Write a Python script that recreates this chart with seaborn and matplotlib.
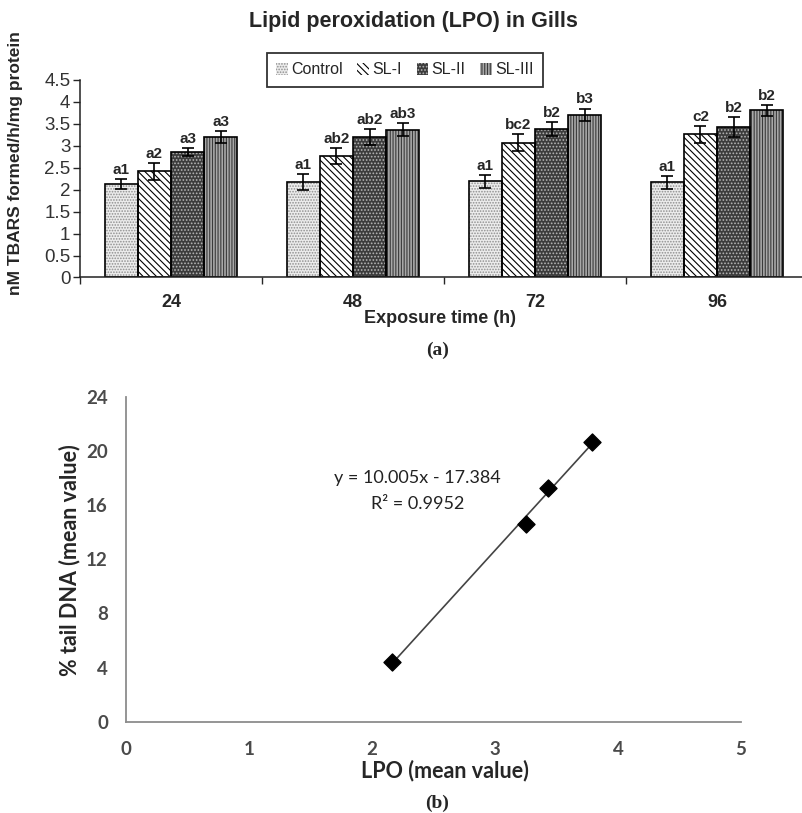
import numpy as np
import pandas as pd
import matplotlib
matplotlib.use("Agg")
import matplotlib.pyplot as plt
from matplotlib.patches import Patch, Rectangle
import seaborn as sns

# dados do grafico (a) - LPO nas branquias
tempos = ["24", "48", "72", "96"]
grupos = ["Control", "SL-I", "SL-II", "SL-III"]
lpo_control = [2.13, 2.17, 2.19, 2.17]
lpo_sl1 = [2.42, 2.77, 3.07, 3.26]
lpo_sl2 = [2.85, 3.21, 3.39, 3.43]
lpo_sl3 = [3.20, 3.37, 3.71, 3.81]
err_control = [0.11, 0.18, 0.14, 0.15]
err_sl1 = [0.19, 0.19, 0.19, 0.19]
err_sl2 = [0.09, 0.18, 0.16, 0.22]
err_sl3 = [0.13, 0.14, 0.14, 0.12]
letras_control = ["a1", "a1", "a1", "a1"]
letras_sl1 = ["a2", "ab2", "bc2", "c2"]
letras_sl2 = ["a3", "ab2", "b2", "b2"]
letras_sl3 = ["a3", "ab3", "b3", "b2"]

# dados do grafico (b) - regressao
lpo_media = [2.16, 3.25, 3.43, 3.79]
tail_dna = [4.38, 14.57, 17.27, 20.66]
y_ticks_a = [0, 0.5, 1, 1.5, 2, 2.5, 3, 3.5, 4, 4.5]
x_ticks_b = [0, 1, 2, 3, 4, 5]
y_ticks_b = [0, 4, 8, 12, 16, 20, 24]

valores = [lpo_control, lpo_sl1, lpo_sl2, lpo_sl3]
erros = [err_control, err_sl1, err_sl2, err_sl3]
letras = [letras_control, letras_sl1, letras_sl2, letras_sl3]

df = pd.DataFrame({
    "tempo": np.tile(tempos, 4),
    "grupo": np.repeat(grupos, 4),
    "valor": np.concatenate(valores),
})

sns.set_style("ticks")
plt.rcParams["font.family"] = ["Liberation Sans", "DejaVu Sans"]
plt.rcParams["hatch.linewidth"] = 0.8

# estilo de cada serie: cor de fundo, hachura, cor da hachura
estilos = [
    ("#ececec", "......", "#8f8f8f"),
    ("white", "\\" * 5, "black"),
    ("#3c3c3c", ".....", "#b5b5b5"),
    ("#a8a8a8", "||||||", "#3a3a3a"),
]

fig = plt.figure(figsize=(8.02, 8.13), dpi=100)
W, H = 802, 813
ax1 = fig.add_axes([80 / W, 1 - 277.5 / H, 728 / W, 197.5 / H])
ax2 = fig.add_axes([126 / W, 1 - 721.7 / H, 615 / W, 325 / H])

# ---- (a) barras ----
sns.barplot(data=df, x="tempo", y="valor", hue="grupo", order=tempos, hue_order=grupos,
            width=0.73, gap=0, errorbar=None, legend=False, ax=ax1)

barras = list(ax1.containers)[:4]
for i, cont in enumerate(barras):
    face, hatch, hcor = estilos[i]
    for j, bar in enumerate(cont):
        bar.set_facecolor(face)
        bar.set_hatch(hatch)
        bar.set_edgecolor(hcor)
        bar.set_linewidth(0)
        ax1.add_patch(Rectangle((bar.get_x(), bar.get_y()), bar.get_width(), bar.get_height(),
                                fill=False, ec="black", lw=1.2, zorder=bar.get_zorder() + 0.1))
        xc = bar.get_x() + bar.get_width() / 2
        h = bar.get_height()
        ax1.errorbar(xc, h, yerr=erros[i][j], fmt="none", ecolor="black",
                     elinewidth=1.2, capsize=4, capthick=1.2, zorder=5)
        ax1.annotate(letras[i][j], (xc, h + erros[i][j]), xytext=(0, 1.5),
                     textcoords="offset points", ha="center", va="bottom",
                     fontsize=11, fontweight="bold")

ax1.set_xlim(-0.5, 3.5)
ax1.set_ylim(0, 4.5)
ax1.set_yticks(y_ticks_a)
ax1.set_yticklabels([f"{v:g}" for v in y_ticks_a], fontsize=13.5, color="#333333")
ax1.set_xticks(range(4))
ax1.set_xticklabels(tempos, fontsize=13, fontweight="bold")
ax1.set_xticks([-0.5, 0.5, 1.5, 2.5, 3.5], minor=True)
ax1.tick_params(axis="x", which="major", length=0, pad=12)
ax1.tick_params(axis="x", which="minor", length=5, width=1, direction="out")
ax1.tick_params(axis="y", length=5, width=1, direction="out", pad=2)
ax1.set_xlabel("")
ax1.set_ylabel("")
sns.despine(ax=ax1)
for s in ["left", "bottom"]:
    ax1.spines[s].set_color("#222222")
    ax1.spines[s].set_linewidth(1.1)

handles = [Patch(facecolor=f, hatch=hh, edgecolor=hc, linewidth=0) for f, hh, hc in estilos]
leg = fig.legend(handles, grupos, loc="center", bbox_to_anchor=(405 / W, 1 - 70 / H), ncol=4,
                 frameon=True, fancybox=False, edgecolor="black", fontsize=11.5,
                 handlelength=0.75, handleheight=0.75, handletextpad=0.2,
                 columnspacing=0.9, borderpad=0.6)
leg.get_frame().set_linewidth(1.3)

fig.text(413 / W, 1 - 22 / H, "Lipid peroxidation (LPO) in Gills", ha="center", va="center",
         fontsize=15.5, fontweight="bold")
fig.text(16 / W, 1 - 163 / H, "nM TBARS formed/h/mg protein", ha="center", va="center",
         rotation=90, fontsize=12.5, fontweight="bold")
fig.text(440 / W, 1 - 318 / H, "Exposure time (h)", ha="center", va="center",
         fontsize=13, fontweight="bold")
fig.text(438 / W, 1 - 350 / H, "(a)", ha="center", va="center", fontsize=14,
         fontweight="bold", family="Liberation Serif")

# ---- (b) regressao ----
sns.regplot(x=lpo_media, y=tail_dna, ci=None, marker="D", color="black", truncate=True,
            scatter_kws={"s": 75, "alpha": 1, "edgecolors": "black", "zorder": 3},
            line_kws={"color": "#444444", "lw": 1.2}, ax=ax2)
ax2.set_xlim(0, 5)
ax2.set_ylim(0, 24)
ax2.set_xticks(x_ticks_b)
ax2.set_yticks(y_ticks_b)
ax2.set_xticklabels([str(v) for v in x_ticks_b], fontsize=13.5, fontweight="bold",
                    color="#4a4a4a", family="Lato")
ax2.set_yticklabels([str(v) for v in y_ticks_b], fontsize=13.5, fontweight="bold",
                    color="#4a4a4a", family="Lato")
ax2.tick_params(axis="x", length=0, pad=14)
ax2.tick_params(axis="y", length=0, pad=13)
sns.despine(ax=ax2)
for s in ["left", "bottom"]:
    ax2.spines[s].set_color("#8c8c8c")
    ax2.spines[s].set_linewidth(1.3)

ax2.text(2.37, 18.0, "y = 10.005x - 17.384", ha="center", va="center", fontsize=13,
         family="Lato", color="#222222")
ax2.text(2.37, 16.1, "R² = 0.9952", ha="center", va="center", fontsize=13,
         family="Lato", color="#222222")

fig.text(70 / W, 1 - 560 / H, "% tail DNA (mean value)", ha="center", va="center", rotation=90,
         fontsize=15.5, fontweight="bold", family="Lato")
fig.text(445 / W, 1 - 771 / H, "LPO (mean value)", ha="center", va="center",
         fontsize=15.5, fontweight="bold", family="Lato")
fig.text(437 / W, 1 - 803 / H, "(b)", ha="center", va="center", fontsize=14,
         fontweight="bold", family="Liberation Serif")

fig.savefig("out.png", dpi=100, facecolor="white")
